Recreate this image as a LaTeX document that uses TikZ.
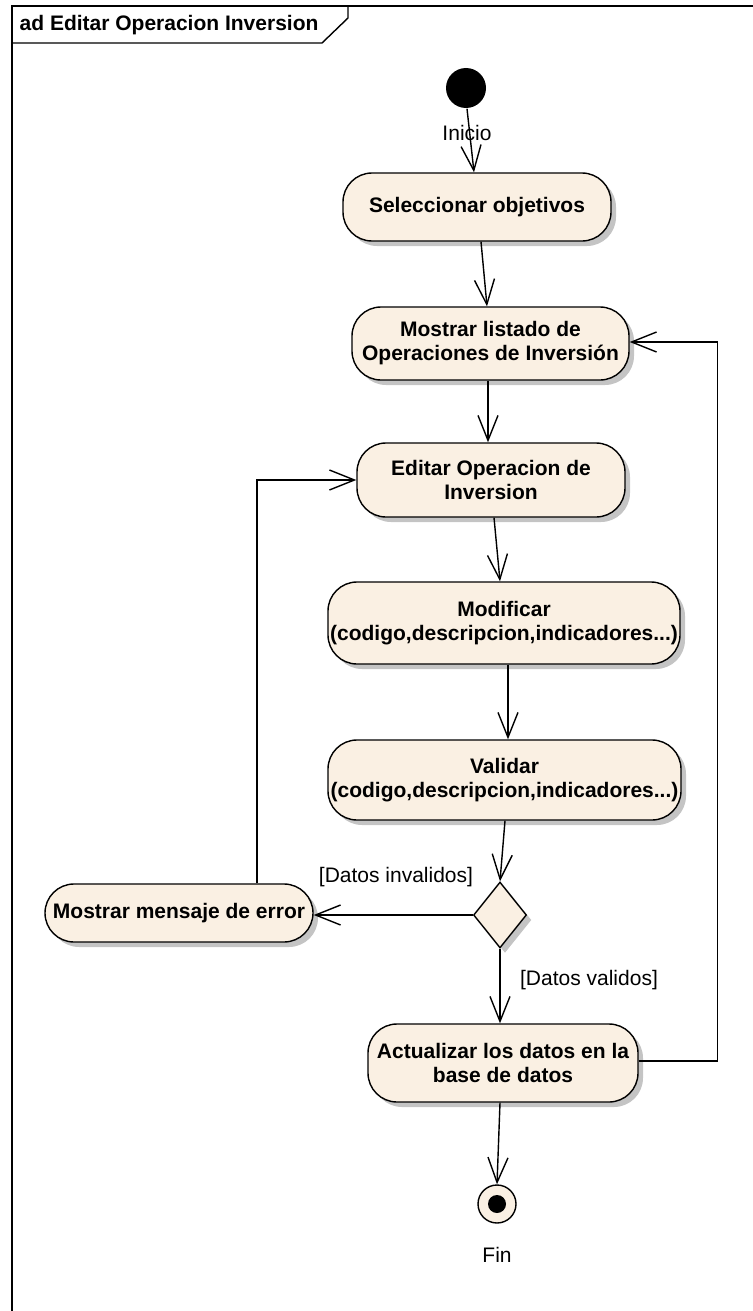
\documentclass[tikz,border=0pt]{standalone}
\usepackage{fontspec}
\setmainfont{Liberation Sans}
\usetikzlibrary{arrows.meta,shapes.geometric,shadows,calc}
\definecolor{actfill}{RGB}{250,240,227}
\definecolor{shade}{RGB}{196,196,196}
\begin{document}
\begin{tikzpicture}[x=1pt,y=-1pt,
  line width=1.4pt,
  txt/.style={font=\fontsize{21}{24}\selectfont},
  action/.style={draw, fill=actfill, rounded corners=29pt, inner sep=0pt, align=center,
    font=\fontsize{21}{24}\selectfont\bfseries,
    drop shadow={shadow xshift=5pt, shadow yshift=-5pt, fill=shade, opacity=1}},
  decision/.style={draw, fill=actfill, diamond, inner sep=0pt,
    drop shadow={shadow xshift=5pt, shadow yshift=-5pt, fill=shade, opacity=1}},
  flow/.style={-{Straight Barb[length=25pt,width=20pt,line width=1.4pt]}}
]
\useasboundingbox (0,0) rectangle (752,1311);

% diagram frame and its name tab
\draw (12,1320) -- (12,6) -- (760,6);
\draw (12,43) -- (322,43) -- (348,18) -- (348,6);
\node[anchor=west, font=\fontsize{21}{24}\selectfont\bfseries, inner sep=0pt] (title) at (19,25) {ad Editar Operacion Inversion};

% initial and final nodes
\node[circle, fill=black, minimum size=40pt, inner sep=0pt] (ini) at (466,88) {};
\node[txt, inner sep=0pt] (inilbl) at (467,133) {Inicio};
\node[circle, draw, fill=actfill, minimum size=38pt, inner sep=0pt] (fin) at (497,1204) {};
\node[circle, fill=black, minimum size=18pt, inner sep=0pt] (findot) at (fin.center) {};
\node[txt, inner sep=0pt] (finlbl) at (497,1255) {Fin};

% actions
\node[action, minimum width=268pt, minimum height=68pt] (sel) at (477,207) {Seleccionar objetivos};
\node[action, minimum width=277pt, minimum height=73pt] (mos) at (490.5,343.5) {Mostrar listado de\\Operaciones de Inversión};
\node[action, minimum width=268pt, minimum height=74pt] (edi) at (491,480) {Editar Operacion de\\Inversion};
\node[action, minimum width=352pt, minimum height=82pt] (mod) at (504,623) {Modificar\\(codigo,descripcion,indicadores...)};
\node[action, minimum width=353pt, minimum height=80pt] (val) at (504.5,780) {Validar\\(codigo,descripcion,indicadores...)};
\node[action, minimum width=268pt, minimum height=58pt] (err) at (179,913) {Mostrar mensaje de error};
\node[action, minimum width=270pt, minimum height=78pt] (act) at (503,1063) {Actualizar los datos en la\\base de datos};

% decision
\node[decision, minimum width=53pt, minimum height=66pt] (dec) at (500,915) {};

% control flows
\draw[flow] ($(ini.south)+(1,0)$) -- ($(sel.north)+(-3,0)$);
\draw[flow] ($(sel.south)+(4,0)$) -- ($(mos.north)+(-3.5,0)$);
\draw[flow] ($(mos.south)+(-2.5,0)$) -- ($(edi.north)+(-3,0)$);
\draw[flow] ($(edi.south)+(3,0)$) -- ($(mod.north)+(-4,0)$);
\draw[flow] ($(mod.south)+(4,0)$) -- ($(val.north)+(3.5,0)$);
\draw[flow] ($(val.south)+(0.5,0)$) -- (dec.north);
\draw[flow] (dec.west) -- (err.east |- dec.west);
\draw[flow] ($(err.north)+(78,0)$) |- (edi.west);
\draw[flow] (dec.south) -- (dec.south |- act.north);
\draw[flow] ($(act.east)+(0,-2)$) -- ++(79,0) |- ($(mos.east)+(0,-1.5)$);
\draw[flow] ($(act.south)+(-3,0)$) -- (fin.north);

% guards
\node[txt, inner sep=0pt] (g1) at (396,877) {[Datos invalidos]};
\node[txt, inner sep=0pt] (g2) at (589,980) {[Datos validos]};
\end{tikzpicture}
\end{document}
